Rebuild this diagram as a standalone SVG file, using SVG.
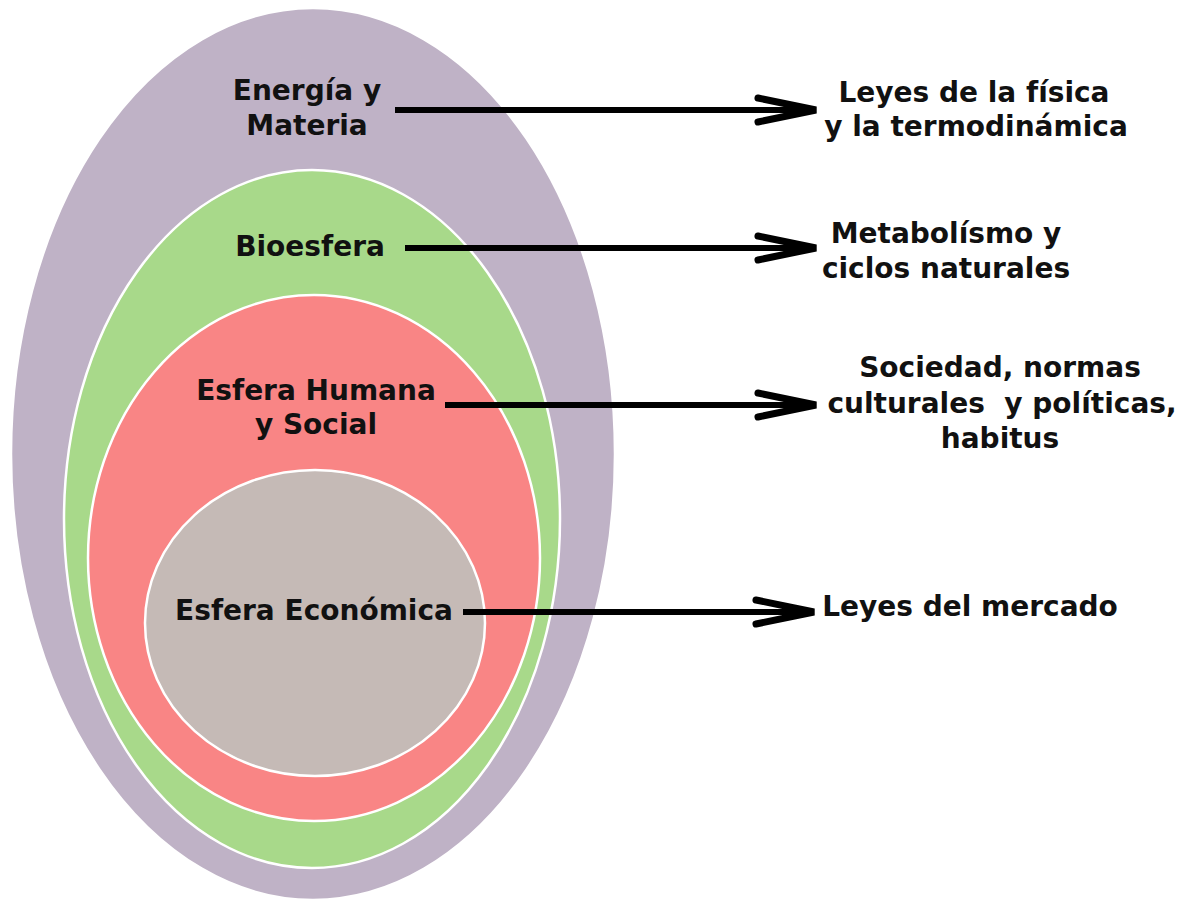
<svg xmlns="http://www.w3.org/2000/svg" width="1188" height="902" viewBox="0 0 1188 902">
<style>
.t{font-family:"DejaVu Sans",sans-serif;font-weight:bold;font-size:28px;fill:#111;text-anchor:middle}
.e{stroke:#fff;stroke-width:2.5}
.a{stroke:#000;stroke-width:6;fill:none;stroke-linecap:butt}
.h{stroke:#000;stroke-width:7;fill:none;stroke-linejoin:miter;stroke-linecap:round}
</style>
<rect width="1188" height="902" fill="#fff"/>
<g id="energia">
<ellipse class="e" cx="313" cy="454" rx="302" ry="446" fill="#bfb2c6"/>
<text class="t" x="307" y="100">Energía y</text>
<text class="t" x="307" y="135">Materia</text>
</g>
<g id="bioesfera">
<ellipse class="e" cx="312" cy="519" rx="248" ry="349" fill="#a8d98a"/>
<text class="t" x="310" y="256">Bioesfera</text>
</g>
<g id="humana">
<ellipse class="e" cx="314" cy="558" rx="226" ry="263" fill="#f98585"/>
<text class="t" x="316" y="400">Esfera Humana</text>
<text class="t" x="316" y="434">y Social</text>
</g>
<g id="economica">
<ellipse class="e" cx="315" cy="623" rx="170" ry="153" fill="#c5bab6"/>
<text class="t" x="314" y="620">Esfera Económica</text>
</g>
<g id="connectors">
<line class="a" x1="395" y1="110" x2="814" y2="110"/>
<polyline class="h" points="758,98 816,110 758,122"/>
<line class="a" x1="405" y1="248" x2="814" y2="248"/>
<polyline class="h" points="758,236 816,248 758,260"/>
<line class="a" x1="445" y1="405" x2="814" y2="405"/>
<polyline class="h" points="758,393 816,405 758,417"/>
<line class="a" x1="463" y1="612" x2="812" y2="612"/>
<polyline class="h" points="756,600 814,612 756,624"/>
</g>
<g id="l1">
<text class="t" x="974" y="102">Leyes de la física</text>
<text class="t" x="976" y="136">y la termodinámica</text>
</g>
<g id="l2">
<text class="t" x="946" y="243">Metabolísmo y</text>
<text class="t" x="946" y="278">ciclos naturales</text>
</g>
<g id="l3">
<text class="t" x="1000" y="377">Sociedad, normas</text>
<text class="t" x="1002" y="413" xml:space="preserve">culturales  y políticas,</text>
<text class="t" x="1000" y="448">habitus</text>
</g>
<g id="l4">
<text class="t" x="970" y="616">Leyes del mercado</text>
</g>
</svg>
